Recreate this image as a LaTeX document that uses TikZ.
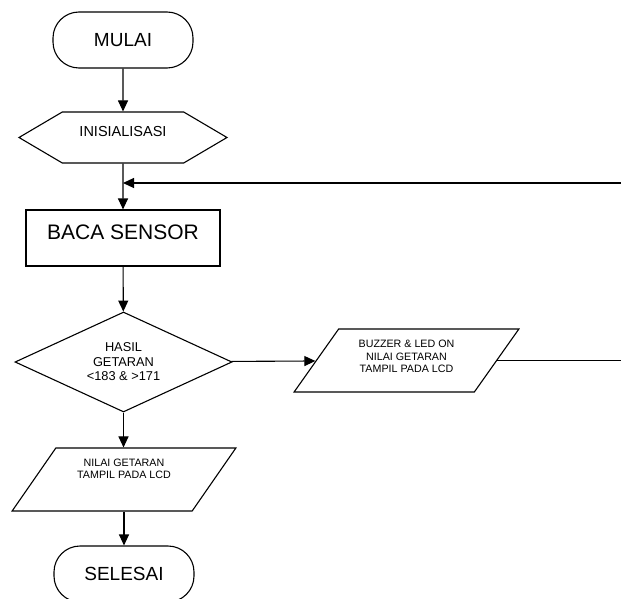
\documentclass[tikz,border=0pt]{standalone}
\usepackage{fontspec}
\setmainfont{Liberation Sans}
\usetikzlibrary{shapes.geometric,shapes.symbols,arrows.meta}

\begin{document}
\begin{tikzpicture}[x=1pt,y=-1pt,line width=1.1pt,
    terminal/.style={draw,rectangle,rounded corners=26pt,minimum width=140pt,minimum height=56pt,font=\fontsize{19}{23}\selectfont},
    prep/.style={draw,signal,signal to=west and east,signal pointer angle=61,minimum width=208pt,minimum height=51pt,font=\fontsize{14.5}{17}\selectfont,text depth=13pt},
    process/.style={draw,rectangle,minimum width=194pt,minimum height=56pt,font=\fontsize{21}{25}\selectfont,text depth=12pt},
    decision/.style={draw,diamond,aspect=2.17,minimum width=217pt,minimum height=100pt,inner sep=1pt,align=center,font=\fontsize{12.8}{14.5}\selectfont},
    io/.style={draw,trapezium,trapezium stretches=true,minimum width=224pt,minimum height=63pt,align=center,font=\fontsize{10.7}{12.5}\selectfont},
    flow/.style={-{Triangle[length=11pt,width=10pt]}}]
    \useasboundingbox (0,0) rectangle (621,599);
    \clip (0,0) rectangle (621,599);
    \node[terminal] (mulai) at (123,40) {MULAI};
    \node[prep] (init) at (123,137.5) {INISIALISASI};
    \node[process] (baca) at (123,238) {BACA SENSOR};
    \node[decision] (cek) at (123.5,362) {HASIL\\GETARAN\\<183 \& >171};
    \node[io,trapezium left angle=56,trapezium right angle=124,text depth=21pt] (tampil) at (124,479.5) {NILAI GETARAN\\TAMPIL PADA LCD};
    \node[io,trapezium left angle=54.5,trapezium right angle=125.5,minimum width=225pt,text depth=8pt] (alarm) at (406.5,360.5) {BUZZER \& LED ON\\NILAI GETARAN\\TAMPIL PADA LCD};
    \node[terminal] (selesai) at (124,574) {SELESAI};
    \coordinate (balik) at (123,183);
    \coordinate (rand) at (640,183);
    % alur utama
    \draw[flow] (mulai) -- (init);
    \draw[flow] (init) -- (baca);
    \draw[flow] (baca) -- (cek);
    \draw[flow] (cek) -- (alarm);
    \draw[flow] (cek.south) -- (cek.south |- tampil.north);
    \draw[flow] (selesai.north |- tampil.south) -- (selesai);
    % kembali ke baca sensor
    \draw[flow] (alarm.east) -| (rand) -- (balik);
\end{tikzpicture}
\end{document}
